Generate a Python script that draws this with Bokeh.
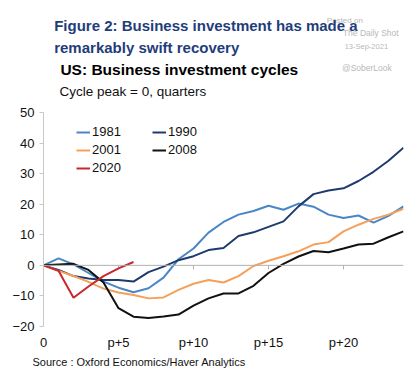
from bokeh.plotting import figure
from bokeh.layouts import column
from bokeh.models import (Legend, LegendItem, FixedTicker, Range1d, Span, Title)
from bokeh.core.properties import value
from bokeh.embed import file_html
from bokeh.resources import INLINE

quarters = list(range(25))
quarters_2020 = list(range(7))
s1981 = [0, 2.3, 0.3, -2.5, -5.3, -7.3, -8.8, -7.5, -4, 2, 5.5, 10.7, 14.2, 16.6, 17.8, 19.5, 18.2, 20.2, 19.2, 16.6, 15.5, 16.3, 14, 16.2, 19.3]
s1990 = [0, -1.5, -3.5, -4.3, -4.8, -4.8, -5.3, -2.2, -0.4, 1.7, 3, 5, 5.7, 9.6, 10.8, 12.6, 14.4, 19.3, 23.3, 24.5, 25.2, 27.6, 30.6, 34.2, 38.5]
s2001 = [0, -1.8, -3.5, -5.4, -7.6, -8.9, -9.7, -10.8, -10.5, -8, -6, -4.8, -5.6, -3.5, -0.2, 1.5, 3, 4.6, 6.8, 7.6, 11.1, 13.3, 15.2, 16.6, 18.5]
s2008 = [0, 0.3, 0.5, -1.5, -5.6, -14, -16.8, -17.2, -16.7, -16.1, -13.2, -10.8, -9.2, -9.2, -6.7, -2.5, 0.5, 2.9, 4.7, 4.3, 5.5, 6.8, 7.1, 9.2, 11.1]
s2020 = [0, -1.8, -10.6, -6.9, -3.5, -1, 1.1]
x_ticks = [0, 5, 10, 15, 20]
x_tick_labels = ["0", "p+5", "p+10", "p+15", "p+20"]
y_ticks = [-20, -10, 0, 10, 20, 30, 40, 50]

FONT = "Liberation Sans"
W = 404
HEAD_H, MAIN_H = 100, 268
TOP_B, BOT_B = 12, 40
Y0, Y1 = -20, 50
TICK_PX = 4

# ---------- header (pixel-mapped: data units == pixels, y grows downward) ----------
head = figure(width=W, height=HEAD_H, output_backend="svg", toolbar_location=None,
              x_range=Range1d(0, W), y_range=Range1d(HEAD_H, 0),
              x_axis_type=None, y_axis_type=None,
              min_border=0, min_border_left=0, min_border_right=0,
              min_border_top=0, min_border_bottom=0)
head.outline_line_color = None
head.grid.visible = False
head.background_fill_color = "white"
head.border_fill_color = "white"


def lab(text, x, y, size, color="#111111", bold=False):
    head.text(x=[x], y=[y], text=[text], text_font=value(FONT),
              text_font_size=value(size), text_color=color,
              text_baseline="middle", text_align="left",
              text_font_style="bold" if bold else "normal")


grey = "#b8b8b8"
lab("Posted on", 318, 20, "8px", grey)
navy = "#1f3d7a"
lab("Figure 2: Business investment has made a", 12, 25, "15px", navy, True)
lab("remarkably swift recovery", 12, 47, "15px", navy, True)
lab("US: Business investment cycles", 19, 68.5, "15.5px", "#000000", True)
lab("Cycle peak = 0, quarters", 18, 91, "13.5px")
lab("The Daily Shot", 336, 32, "8.5px", grey)
lab("13-Sep-2021", 338, 46, "7.5px", grey)
lab("@SoberLook", 335, 67, "8.5px", grey)

# ---------- main chart ----------
p = figure(width=W, height=MAIN_H, output_backend="svg", toolbar_location=None,
           x_range=Range1d(0, 24), y_range=Range1d(Y0, Y1),
           min_border_left=43, min_border_right=1, min_border_top=TOP_B, min_border_bottom=BOT_B)
p.outline_line_color = None
p.grid.visible = False
p.background_fill_color = "white"
p.border_fill_color = "white"

ya = p.yaxis[0]
ya.ticker = FixedTicker(ticks=y_ticks)
ya.axis_line_color = "#c8c8c8"
ya.major_tick_line_color = "#c8c8c8"
ya.major_tick_in = 0
ya.major_tick_out = TICK_PX
ya.minor_tick_line_color = None
ya.major_label_standoff = 5
ya.major_label_text_font = FONT
ya.major_label_text_font_size = "13px"
ya.major_label_text_color = "#111111"

xa = p.xaxis[0]
xa.ticker = FixedTicker(ticks=x_ticks)
xa.major_label_overrides = {t: l for t, l in zip(x_ticks, x_tick_labels)}
xa.axis_line_color = None
xa.major_tick_line_color = None
xa.major_tick_in = 0
xa.major_tick_out = 0
xa.minor_tick_line_color = None
xa.major_label_standoff = 8
xa.major_label_text_font = FONT
xa.major_label_text_font_size = "13px"
xa.major_label_text_color = "#111111"

# zero line with small downward ticks
p.add_layout(Span(location=0, dimension="width", line_color="#b0b0b0", line_width=1))
frame_h = MAIN_H - TOP_B - BOT_B
tick_len = TICK_PX * (Y1 - Y0) / frame_h
p.segment(x0=x_ticks[1:], y0=[0] * 4, x1=x_ticks[1:], y1=[-tick_len] * 4,
          line_color="#b0b0b0", line_width=1)

lw = 2
r81 = p.line(quarters, s1981, line_color="#4a86c6", line_width=lw)
r90 = p.line(quarters, s1990, line_color="#1f3a6e", line_width=lw)
r01 = p.line(quarters, s2001, line_color="#f5a05a", line_width=lw)
r08 = p.line(quarters, s2008, line_color="#111111", line_width=lw)
r20 = p.line(quarters_2020, s2020, line_color="#c8282c", line_width=lw)


def mk_legend(items, loc):
    lg = Legend(items=items, location=loc, padding=0, margin=0, spacing=3,
                glyph_width=14, glyph_height=14, label_height=14, label_standoff=2,
                border_line_alpha=0, background_fill_alpha=0,
                label_text_font=FONT, label_text_font_size="13px",
                label_text_color="#111111")
    p.add_layout(lg, "center")


mk_legend([LegendItem(label="1981", renderers=[r81]),
           LegendItem(label="2001", renderers=[r01]),
           LegendItem(label="2020", renderers=[r20])], (33, 151))
mk_legend([LegendItem(label="1990", renderers=[r90]),
           LegendItem(label="2008", renderers=[r08])], (109, 169))

# source line under the chart
p.add_layout(Title(text="Source : Oxford Economics/Haver Analytics", align="left",
                   offset=-11, standoff=2, text_font=FONT, text_font_size="11px",
                   text_font_style="normal", text_color="#111111"), "below")

layout = column(head, p, spacing=0)
open("out.html", "w").write(file_html(layout, INLINE))
